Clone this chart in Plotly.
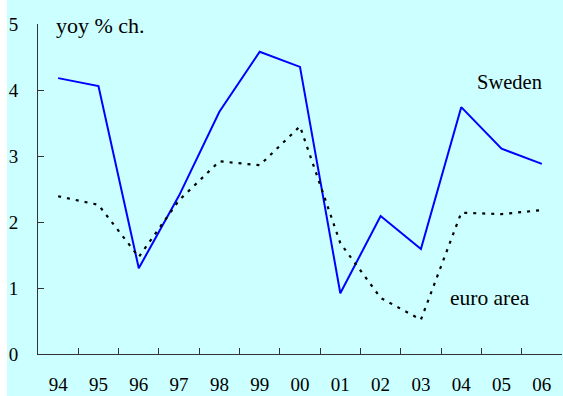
import plotly.graph_objects as go

# annual data, yoy % change
years = ["94", "95", "96", "97", "98", "99", "00", "01", "02", "03", "04", "05", "06"]
sweden = [4.18, 4.06, 1.30, 2.40, 3.67, 4.58, 4.35, 0.92, 2.09, 1.59, 3.74, 3.11, 2.88]
euro_area = [2.39, 2.26, 1.47, 2.33, 2.92, 2.86, 3.45, 1.68, 0.85, 0.52, 2.14, 2.12, 2.18]

BG = "#CCFFFF"
AXIS = "#333333"
FONT = "Liberation Serif, Times New Roman, serif"

# plot area in pixels: x 38..562, y 24..354
PW, PH = 524, 330


def px(x, y):
    return (x - 38) / PW, (354 - y) / PH


fig = go.Figure()
fig.add_trace(go.Scatter(
    x=years, y=sweden, mode="lines", name="Sweden",
    line=dict(color="#0000FF", width=2),
))
fig.add_trace(go.Scatter(
    x=years, y=euro_area, mode="lines", name="euro area",
    line=dict(color="#000000", width=2.2, dash="3px,6px"),
))

# labels in the plot
for text, (lx, ly), size in [
    ("yoy % ch.", px(54, 25), 22),
    ("Sweden", px(475, 82), 20.5),
    ("euro area", px(448, 298), 21.5),
]:
    fig.add_annotation(x=lx, y=ly, xref="paper", yref="paper", text=text,
                       showarrow=False, xanchor="left", yanchor="middle",
                       font=dict(size=size, color="#000000", family=FONT))

# thin white strip on the far left
fig.add_shape(type="rect", xref="paper", yref="paper",
              x0=-0.08, x1=-31 / PW, y0=-0.2, y1=1.2,
              fillcolor="#FFFFFF", line=dict(width=0), layer="below")

fig.update_layout(
    width=563, height=396,
    paper_bgcolor=BG, plot_bgcolor=BG,
    showlegend=False,
    margin=dict(l=38, r=1, t=24, b=42),
    font=dict(family=FONT, color="#000000", size=19),
    xaxis=dict(
        type="category", tickson="boundaries", range=[-0.5, 12.5],
        showline=True, linecolor=AXIS, linewidth=1,
        ticks="inside", ticklen=6, tickcolor=AXIS,
        showgrid=False, zeroline=False, automargin=False,
        ticklabelstandoff=13,
        tickfont=dict(size=19, family=FONT),
    ),
    yaxis=dict(
        range=[0, 5], dtick=1,
        showline=True, linecolor=AXIS, linewidth=1,
        ticks="inside", ticklen=6, tickcolor=AXIS,
        showgrid=False, zeroline=False, automargin=False,
        ticklabelstandoff=15,
        tickfont=dict(size=19, family=FONT),
    ),
)

# drop the default page margin so the figure fills the window
fig.write_html("out.html", config={"displayModeBar": False},
               post_script="document.body.style.margin='0';")
